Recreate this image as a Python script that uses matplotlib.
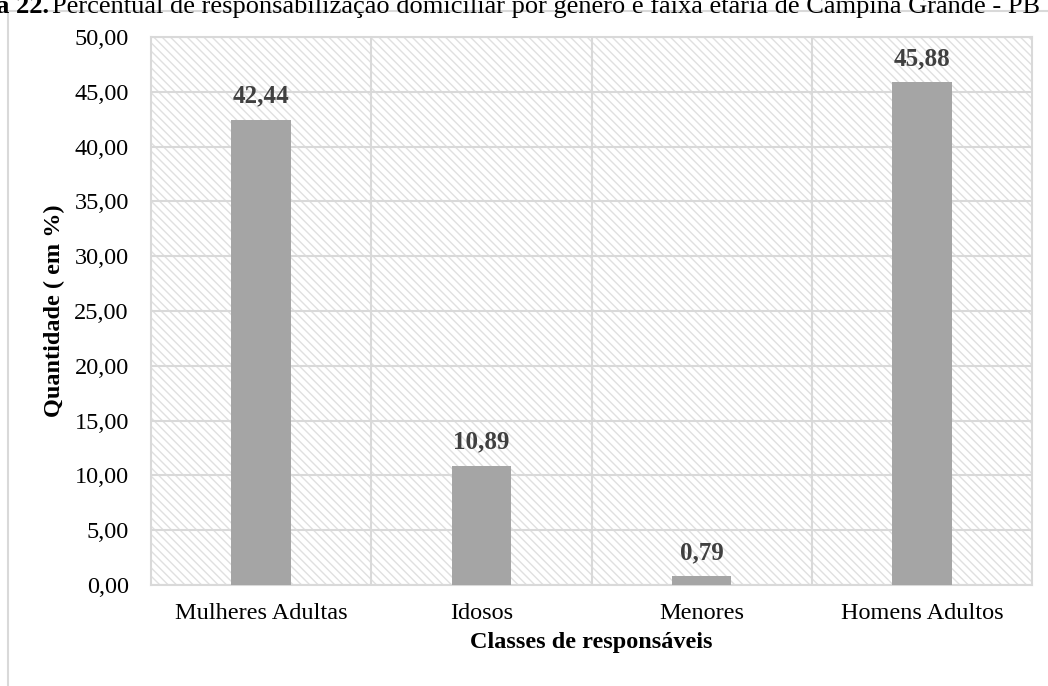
import matplotlib.pyplot as plt
from matplotlib.patches import Rectangle

categorias = ['Mulheres Adultas', 'Idosos', 'Menores', 'Homens Adultos']
valores = [42.44, 10.89, 0.79, 45.88]
yticks = [0, 5, 10, 15, 20, 25, 30, 35, 40, 45, 50]

plt.rcParams['font.family'] = ['Liberation Serif', 'DejaVu Serif']
plt.rcParams['hatch.linewidth'] = 1.0

fig = plt.figure(figsize=(10.48, 6.86), dpi=100)
ax = fig.add_axes([151/1048, 1 - 585/686, 881/1048, 548/686])

# moldura do gráfico
fig.patches.append(Rectangle((8/1048, -0.1), 1.2, 1 - 11/686 + 0.1, transform=fig.transFigure,
                             fill=False, edgecolor='#d9d9d9', linewidth=1.5, zorder=0))

ax.patch.set_facecolor('white')
ax.patch.set_hatch('\\\\\\\\')
ax.patch.set_edgecolor('#e0e0e0')

x = range(len(categorias))
ax.bar(x, valores, width=0.27, color='#a5a5a5', zorder=3)

for i, v in enumerate(valores):
    ax.text(i, v + 1.1, f'{v:.2f}'.replace('.', ','), ha='center', va='bottom',
            fontsize=18, fontweight='bold', color='#404040', zorder=4)

ax.set_xlim(-0.5, 3.5)
ax.set_ylim(0, 50)
ax.set_yticks(yticks)
ax.set_yticklabels([f'{t:.2f}'.replace('.', ',') for t in yticks], fontsize=17.5)
ax.set_xticks(list(x))
ax.set_xticklabels(categorias, fontsize=17.5)
ax.set_xticks([0.5, 1.5, 2.5], minor=True)
ax.tick_params(axis='both', which='both', length=0)
ax.tick_params(axis='x', pad=13)
ax.tick_params(axis='y', pad=16)

ax.grid(axis='y', color='#d9d9d9', linewidth=1.5, zorder=1)
ax.grid(axis='x', which='minor', color='#d9d9d9', linewidth=1.5, zorder=1)
ax.set_axisbelow(True)
for s in ax.spines.values():
    s.set_color('#d9d9d9')
    s.set_linewidth(1.5)

ax.set_xlabel('Classes de responsáveis', fontsize=17.5, fontweight='bold', labelpad=6)
ax.set_ylabel('Quantidade ( em %)', fontsize=17.5, fontweight='bold', labelpad=7)

# título cortado na borda superior, como no original
fig.text(49/1048, 1 - 13/686, 'Figura 22.', fontsize=19, fontweight='bold', ha='right', va='baseline')
fig.text(52/1048, 1 - 13/686,
         'Percentual de responsabilização domiciliar por gênero e faixa etária de Campina Grande - PB',
         fontsize=19, ha='left', va='baseline')

fig.savefig('out.png', dpi=100)
